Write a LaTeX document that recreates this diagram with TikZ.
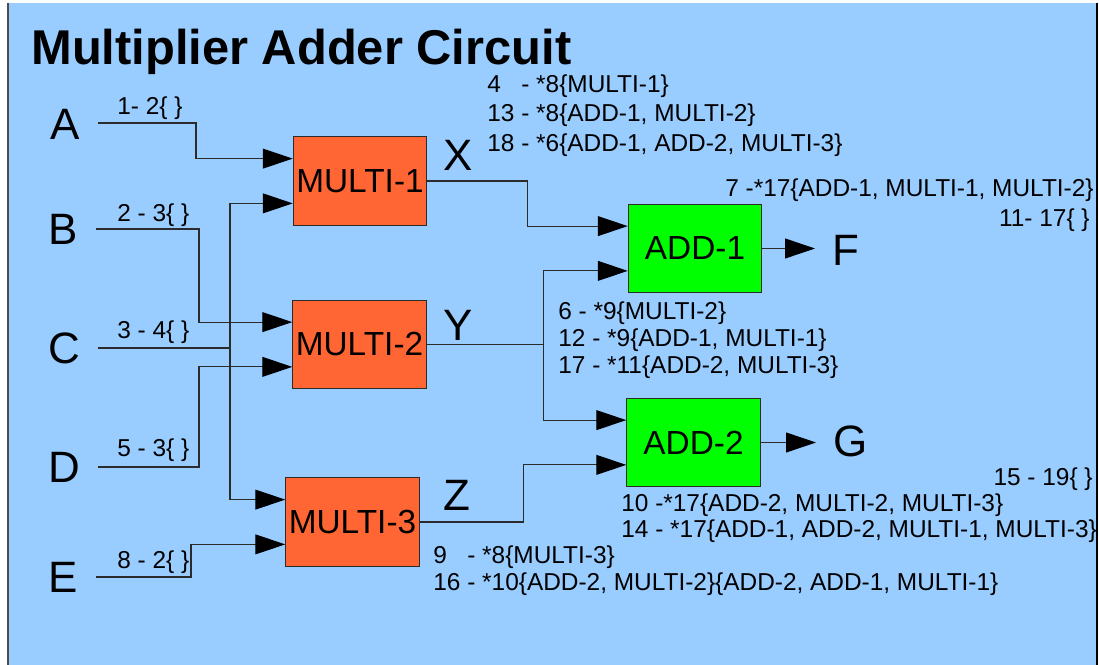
\documentclass[tikz,border=0pt]{standalone}
\usepackage{fontspec}
\setmainfont{Liberation Sans}
\usetikzlibrary{arrows.meta,calc}
\definecolor{fond}{HTML}{99CCFF}
\definecolor{orangemul}{HTML}{FF6633}
\definecolor{vertadd}{HTML}{00FF00}
\definecolor{trait}{HTML}{2B2B2B}

\begin{document}
\begin{tikzpicture}[x=0.02cm,y=-0.02cm,
  bloc/.style={draw=trait,line width=0.6pt,minimum width=2.67cm,minimum height=1.77cm,inner sep=0pt,font=\fontsize{19}{23}\selectfont},
  blocmul/.style={bloc,fill=orangemul},
  blocadd/.style={bloc,fill=vertadd},
  lettre/.style={inner sep=0pt,font=\fontsize{25}{30}\selectfont},
  etiq/.style={inner sep=0pt,font=\fontsize{13.9}{16}\selectfont},
  ligne/.style={line width=0.6pt,draw=trait},
  fil/.style={ligne,-{Triangle[length=17pt,width=11.3pt,color=black]}}]
\useasboundingbox (0,0) rectangle (1099,665);
%fond
\fill[fond] (8,3) rectangle (1097,666);
\draw[line width=0.8pt,black!70] (8,3) -- (8,666);
\draw[line width=0.8pt,black] (1097,3) -- (1097,666);

\node[anchor=base west,inner sep=0pt,font=\fontsize{27.8}{32}\selectfont\bfseries] (titre) at (31,65) {Multiplier Adder Circuit};

%entrees
\node[lettre] (A) at (65,124) {A};
\node[lettre] (B) at (63,229) {B};
\node[lettre] (C) at (64,348) {C};
\node[lettre] (D) at (64,467) {D};
\node[lettre] (E) at (63,577) {E};
\coordinate (ina) at (98,123);
\coordinate (inb) at (96,229);
\coordinate (inc) at (98,348);
\coordinate (ind) at (98,467);
\coordinate (ine) at (96,577);
\coordinate (bus) at (230,348);

%blocs
\node[blocmul] (m1) at (360,181) {MULTI-1};
\node[blocmul] (m2) at (359.5,344.5) {MULTI-2};
\node[blocmul] (m3) at (352.5,522) {MULTI-3};
\node[blocadd] (a1) at (695,248.5) {ADD-1};
\node[blocadd] (a2) at (693.5,442.5) {ADD-2};
\foreach \b in {m1,m2,m3,a1,a2}{
  \coordinate (\b a) at ($(\b.north west)!.25!(\b.south west)$);
  \coordinate (\b b) at ($(\b.north west)!.75!(\b.south west)$);
}

%sorties
\node[lettre] (X) at (458,155) {X};
\node[lettre] (Y) at (458,325) {Y};
\node[lettre] (Z) at (457,495) {Z};
\node[lettre] (F) at (846,250) {F};
\node[lettre] (G) at (851,441) {G};
\coordinate (outf) at (815,248.5);
\coordinate (outg) at (816,442.5);

%fils
\draw[fil] (ina) -- ++(98,0) |- (m1a);
\draw[fil] (inb) -- ++(103,0) |- (m2a);
\draw[ligne] (inc) -- (bus);
\draw[fil] (bus) |- (m1b);
\draw[fil] (bus) |- (m3a);
\draw[fil] (ind) -- ++(101,0) |- (m2b);
\draw[fil] (ine) -- ++(95,0) |- (m3b);
\draw[fil] (m1.east) -- ++(100,0) |- (a1a);
\draw[fil] (m2.east) -- ++(117,0) coordinate (ny) |- (a1b);
\draw[fil] (ny) |- (a2a);
\draw[fil] (m3.east) -- ++(104,0) |- (a2b);
\draw[fil] (a1.east) -- (outf);
\draw[fil] (a2.east) -- (outg);

%etiquettes
\node[etiq,anchor=base west] (ea) at (117,115) {1- 2\{ \}};
\node[etiq,anchor=base west] (eb) at (117,222) {2 - 3\{ \}};
\node[etiq,anchor=base west] (ec) at (117,339) {3 - 4\{ \}};
\node[etiq,anchor=base west] (ed) at (117,457) {5 - 3\{ \}};
\node[etiq,anchor=base west] (ee) at (117,568) {8 - 2\{ \}};

\node[etiq,anchor=base west] (x1) at (487,93) {4\phantom{3} - *8\{MULTI-1\}};
\node[etiq,anchor=base west] (x2) at (487,122) {13 - *8\{ADD-1, MULTI-2\}};
\node[etiq,anchor=base west] (x3) at (487,152) {18 - *6\{ADD-1, ADD-2, MULTI-3\}};

\node[etiq,anchor=base west] (f1) at (725,197) {7 -*17\{ADD-1, MULTI-1, MULTI-2\}};
\node[etiq,anchor=base east] (f2) at (1090,227) {11- 17\{ \}};

\node[etiq,anchor=base west] (y1) at (558,320) {6 - *9\{MULTI-2\}};
\node[etiq,anchor=base west] (y2) at (558,347) {12 - *9\{ADD-1, MULTI-1\}};
\node[etiq,anchor=base west] (y3) at (558,374) {17 - *11\{ADD-2, MULTI-3\}};

\node[etiq,anchor=base east] (g1) at (1093,485) {15 - 19\{ \}};
\node[etiq,anchor=base west] (g2) at (621,511) {10 -*17\{ADD-2, MULTI-2, MULTI-3\}};
\node[etiq,anchor=base west] (g3) at (621,538) {14 - *17\{ADD-1, ADD-2, MULTI-1, MULTI-3\}};

\node[etiq,anchor=base west] (z1) at (433,563) {9\phantom{6} - *8\{MULTI-3\}};
\node[etiq,anchor=base west] (z2) at (433,590) {16 - *10\{ADD-2, MULTI-2\}\{ADD-2, ADD-1, MULTI-1\}};

\end{tikzpicture}
\end{document}
